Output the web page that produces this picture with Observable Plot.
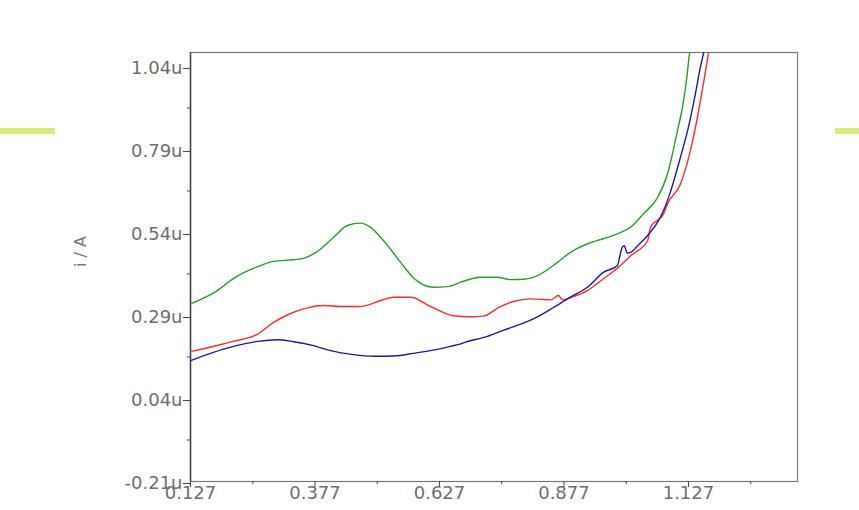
<!DOCTYPE html>
<html>
<head>
<meta charset="utf-8">
<script src="https://cdn.jsdelivr.net/npm/d3@7"></script>
<script src="https://cdn.jsdelivr.net/npm/@observablehq/plot@0.6"></script>
<style>
  html, body { margin: 0; padding: 0; background: #fff; }
  #wrap { position: relative; width: 859px; height: 510px; overflow: hidden; }
  .deco { position: absolute; top: 128px; height: 6px; background: #dde77f; }
  #chart svg { display: block; }
</style>
</head>
<body>
<div id="wrap">
  <div id="chart"></div>
  <div class="deco" style="left:0;width:55px;"></div>
  <div class="deco" style="left:835px;width:24px;"></div>
</div>
<script>
// Potential (V) and current (µA, shown as "u")
const greenX = [0.127,0.181,0.213,0.262,0.294,0.334,0.354,0.382,0.414,0.442,0.468,0.488,0.515,0.549,0.575,0.615,0.643,0.675,0.709,0.743,0.770,0.796,0.824,0.864,0.890,0.924,0.956,0.984,1.011,1.037,1.065,1.085,1.095,1.105,1.115,1.123,1.129,1.133];
const greenY = [0.325,0.365,0.401,0.437,0.453,0.458,0.462,0.483,0.525,0.561,0.568,0.556,0.515,0.450,0.403,0.375,0.377,0.393,0.405,0.405,0.398,0.399,0.410,0.450,0.480,0.506,0.521,0.536,0.556,0.597,0.645,0.717,0.777,0.847,0.917,0.998,1.078,1.118];

const blueX = [0.127,0.173,0.213,0.262,0.302,0.334,0.374,0.408,0.454,0.494,0.535,0.575,0.623,0.663,0.689,0.709,0.723,0.756,0.790,0.824,0.856,0.890,0.924,0.956,0.984,0.994,0.998,1.004,1.011,1.025,1.045,1.065,1.077,1.091,1.111,1.127,1.141,1.151,1.157,1.163];
const blueY = [0.154,0.179,0.197,0.212,0.217,0.211,0.199,0.184,0.172,0.167,0.168,0.176,0.188,0.202,0.214,0.221,0.227,0.246,0.264,0.286,0.314,0.345,0.375,0.420,0.440,0.495,0.500,0.478,0.480,0.500,0.531,0.571,0.606,0.663,0.767,0.857,0.958,1.038,1.078,1.118];

const redX = [0.127,0.187,0.213,0.262,0.294,0.328,0.362,0.394,0.428,0.468,0.509,0.535,0.569,0.609,0.655,0.689,0.715,0.749,0.776,0.810,0.850,0.866,0.874,0.896,0.924,0.956,0.990,1.011,1.045,1.051,1.077,1.085,1.111,1.131,1.145,1.157,1.167,1.171];
const redY = [0.181,0.202,0.212,0.234,0.269,0.296,0.313,0.320,0.317,0.317,0.335,0.345,0.345,0.317,0.289,0.286,0.288,0.317,0.332,0.340,0.337,0.350,0.337,0.347,0.365,0.400,0.440,0.470,0.515,0.556,0.596,0.626,0.686,0.787,0.887,0.988,1.078,1.118];

const xTicks = [0.127, 0.377, 0.627, 0.877, 1.127];
const xMinor = [0.252, 0.502, 0.752, 1.002, 1.252];
const yTicks = [-0.21, 0.04, 0.29, 0.54, 0.79, 1.04];
const yMinor = [-0.085, 0.165, 0.415, 0.665, 0.915];

const toRows = (xs, ys) => xs.map((x, i) => ({x, y: ys[i]}));
const green = toRows(greenX, greenY);
const blue = toRows(blueX, blueY);
const red = toRows(redX, redY);

const font = "'DejaVu Sans', Verdana, sans-serif";

const chart = Plot.plot({
  width: 859,
  height: 510,
  marginLeft: 190,
  marginRight: 62,
  marginTop: 52,
  marginBottom: 29,
  style: {fontFamily: font, fontSize: "18px", color: "#6e6e6e", background: "#fff"},
  x: {domain: [0.127, 1.346]},
  y: {domain: [-0.21, 1.082]},
  marks: [
    Plot.frame({stroke: "#777", strokeWidth: 1.2}),
    Plot.axisX(xTicks, {tickSize: 6, tickPadding: -1, tickFormat: d => d.toFixed(3), stroke: "#444", fill: "#6e6e6e", label: null}),
    Plot.axisX(xMinor, {tickSize: 3, tickFormat: () => "", stroke: "#444", label: null}),
    Plot.axisY(yTicks, {tickSize: 7, tickPadding: 1, dy: 2, tickFormat: d => d.toFixed(2) + "u", stroke: "#444", fill: "#6e6e6e", label: null}),
    Plot.axisY(yMinor, {tickSize: 3, tickFormat: () => "", stroke: "#444", label: null}),
    Plot.ruleX([0.127], {stroke: "#444", strokeWidth: 1.5}),
    Plot.line(green, {x: "x", y: "y", stroke: "#2f9a2f", strokeWidth: 1.4, curve: "monotone-x", clip: true}),
    Plot.line(red, {x: "x", y: "y", stroke: "#ff2a2a", strokeWidth: 1.4, curve: "monotone-x", clip: true}),
    Plot.line(blue, {x: "x", y: "y", stroke: "#1c1c96", strokeWidth: 1.4, curve: "monotone-x", clip: true}),
    Plot.text(["i / A"], {frameAnchor: "left", dx: -110, rotate: -90, fill: "#777", fontSize: 16})
  ]
});
document.getElementById("chart").appendChild(chart);
</script>
</body>
</html>
